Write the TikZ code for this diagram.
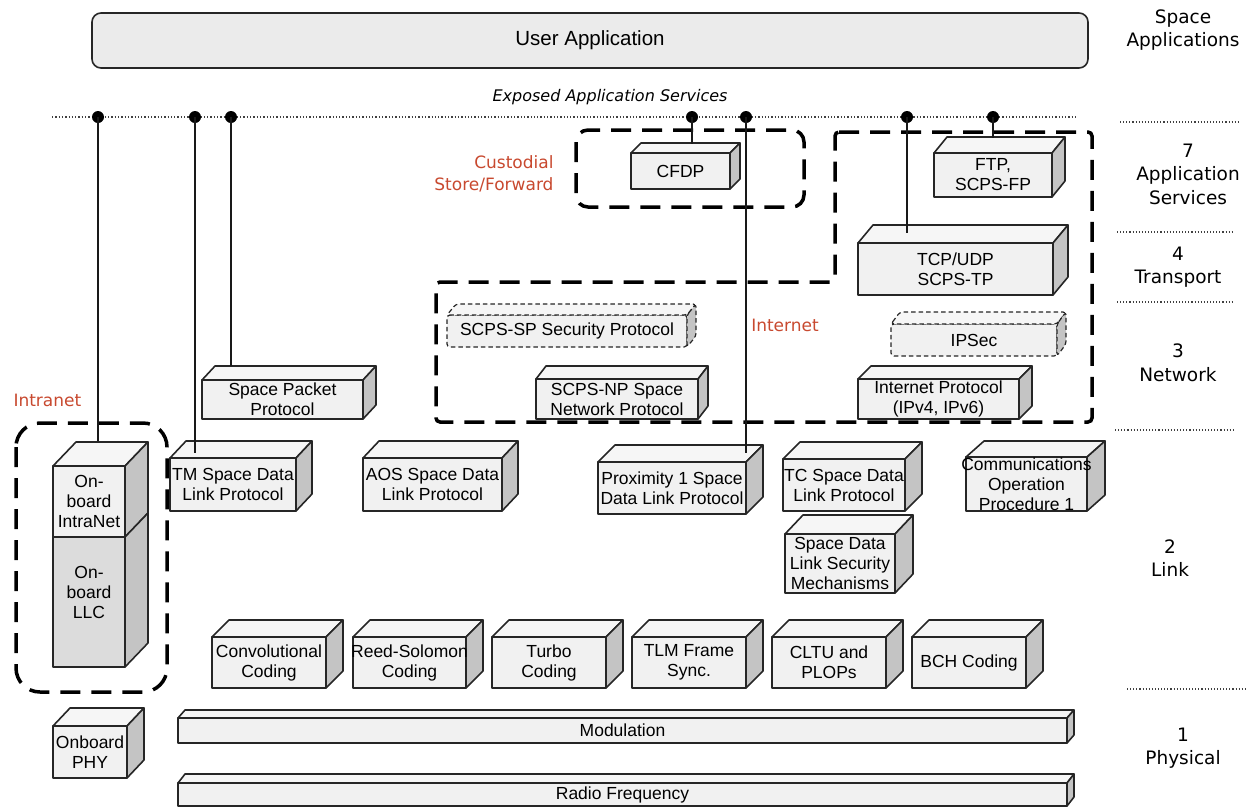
\documentclass[tikz,border=0pt]{standalone}
\usepackage{fontspec}
\setmainfont{Liberation Sans}
\newfontfamily\wideff{DejaVu Sans}
\newcommand\bxfont{\fontsize{17.5}{20}\selectfont}
\newcommand\lyfont{\wideff\fontsize{18.5}{23.5}\selectfont}
\newcommand\rdfont{\wideff\fontsize{17}{22}\selectfont}
\definecolor{frontc}{HTML}{F1F1F1}
\definecolor{sidec}{HTML}{C4C4C4}
\definecolor{topc}{HTML}{F6F6F6}
\definecolor{llcc}{HTML}{DCDCDC}
\definecolor{userc}{HTML}{EBEBEB}
\definecolor{redlab}{HTML}{C8492F}
\tikzset{
  boxline/.style={draw=black!85, line width=1.6pt, line join=round},
  front/.style={boxline, fill=frontc, rectangle, inner sep=0pt, outer sep=0pt},
  topface/.style={boxline, fill=topc},
  sideface/.style={boxline, fill=sidec},
  boxtext/.style={font=\bxfont, align=center, inner sep=0pt},
  secb/.style={dash pattern=on 4.5pt off 3pt, line width=1.2pt, rounded corners=3pt},
  dot/.style={circle, fill=black, inner sep=0pt, minimum size=12pt},
  conn/.style={line width=1.6pt, black!90},
  exposedline/.style={dotted, line width=1.3pt, black!75},
  bigdash/.style={line width=3.5pt, dash pattern=on 20pt off 11pt},
  layerlab/.style={font=\lyfont, align=center},
  redtext/.style={text=redlab, font=\rdfont},
}
% [opts]{name}{x1}{y1}{x2}{y2}{dx}{dy}{text}
\newcommand\cubebox[9][]{%
  \node[front,#1,minimum width={#5-#3},minimum height={#6-#4}] (#2) at ({(#3+#5)/2},{(#4+#6)/2}) {};
  \draw[topface,#1] (#2.north west) -- ++(#7,-#8) -- ([shift={(#7,-#8)}]#2.north east) -- (#2.north east) -- cycle;
  \draw[sideface,#1] (#2.north east) -- ++(#7,-#8) -- ([shift={(#7,-#8)}]#2.south east) -- (#2.south east) -- cycle;
  \node[boxtext] (#2-t) at (#2.center) {#9};
}
\begin{document}
\begin{tikzpicture}[x=1pt,y=-1pt]
\useasboundingbox (0,0) rectangle (1255,807);

% user application
\node[draw=black!85, line width=1.6pt, fill=userc, rounded corners=9pt,
      minimum width=996pt, minimum height=55pt, font=\fontsize{20.5}{24}\selectfont]
      (user) at (590,40.5) {User Application};

% exposed services line
\draw[exposedline] (52,117) -- (1077,117);
\node[font=\wideff\itshape\fontsize{16}{18}\selectfont] (exposed) at (610,97) {Exposed Application Services};

% layer labels
\node[layerlab] (lspace) at (1183,30) {Space\\Applications};
\node[layerlab] (l7) at (1188,174) {7\\Application\\Services};
\node[layerlab] (l4) at (1178,267) {4\\Transport};
\node[layerlab] (l3) at (1178,363) {3\\Network};
\node[layerlab] (l2) at (1170,558) {2\\Link};
\node[layerlab] (l1) at (1183,748) {1\\Physical};
\foreach \yy/\xa/\xb in {122/1120/1240, 232/1117/1232, 302/1117/1232, 430/1115/1233, 689/1127/1245}
  \draw[exposedline, line width=1.1pt] (\xa,\yy) -- (\xb,\yy);

% dashed groupings
\draw[bigdash, rounded corners=12pt] (576,130) rectangle (804,207);
\draw[bigdash, rounded corners=4pt] (835,132) -- (1092,132) -- (1092,422) -- (436,422) -- (436,282) -- (835,282) -- cycle;
\draw[bigdash, rounded corners=24pt] (16,423) rectangle (167,692);

% red labels
\node[redtext, align=right, anchor=east] (custodial) at (557,174) {Custodial\\Store/Forward};
\node[redtext, anchor=west] (intranet) at (10,400) {Intranet};
\node[redtext] (internet) at (785,325) {Internet};

% application / transport / network
\cubebox{cfdp}{631}{153}{730}{189}{10}{10}{CFDP}
\cubebox{ftp}{934}{153}{1052}{197}{13}{16}{FTP,\\SCPS-FP}
\cubebox{tcp}{858}{243}{1053}{295}{15}{18}{TCP/UDP\\SCPS-TP}
\cubebox[secb]{scpssp}{447}{315}{687}{347}{9}{11}{SCPS-SP Security Protocol}
\cubebox[secb]{ipsec}{891}{324}{1057}{356}{9}{12}{IPSec}
\cubebox{scpsnp}{536}{379}{698}{419}{10}{13}{SCPS-NP Space\\Network Protocol}
\cubebox{ip}{858}{379}{1019}{419}{13}{13}{Internet Protocol\\(IPv4, IPv6)}
\cubebox{spp}{202}{380}{363}{419}{13}{14}{Space Packet\\Protocol}

% link
\cubebox{tm}{170}{458}{296}{511}{16}{17}{TM Space Data\\Link Protocol}
\cubebox{aos}{363}{458}{502}{511}{16}{17}{AOS Space Data\\Link Protocol}
\cubebox{prox}{598}{462}{746}{514}{17}{17}{Proximity 1 Space\\Data Link Protocol}
\cubebox{tc}{783}{459}{905}{511}{17}{17}{TC Space Data\\Link Protocol}
\cubebox{sdls}{785}{534}{895}{593}{18}{19}{Space Data\\Link Security\\Mechanisms}
\cubebox{cop}{966}{457}{1087}{511}{18}{16}{Communications\\Operation\\Procedure 1}

% onboard stack
\cubebox{intra}{53}{466}{125}{537}{23}{24}{On-\\board\\IntraNet}
\node[front, fill=llcc, minimum width=72pt, minimum height=130pt] (llc) at (89,602) {};
\draw[sideface] (llc.north east) -- ++(23,-24) -- ([shift={(23,-24)}]llc.south east) -- (llc.south east) -- cycle;
\node[boxtext] (llc-t) at (89,592) {On-\\board\\LLC};
\cubebox{phy}{53}{726}{127}{778}{17}{18}{Onboard\\PHY}

% coding
\cubebox{conv}{212}{637}{326}{688}{17}{17}{Convolutional\\Coding}
\cubebox{rs}{353}{637}{466}{688}{17}{17}{Reed-Solomon\\Coding}
\cubebox{turbo}{492}{637}{606}{688}{17}{17}{Turbo\\Coding}
\cubebox{tlm}{632}{637}{746}{688}{17}{17}{TLM Frame\\Sync.}
\cubebox{cltu}{772}{637}{886}{688}{17}{17}{CLTU and\\PLOPs}
\cubebox{bch}{912}{637}{1026}{688}{17}{17}{BCH Coding}

% physical
\cubebox{mod}{178}{718}{1067}{743}{7}{8}{Modulation}
\cubebox{rf}{178}{783}{1067}{806}{7}{9}{Radio Frequency}

% service access points and connectors
\node[dot] (d1) at (98,117) {};
\node[dot] (d2) at (195,117) {};
\node[dot] (d3) at (231,117) {};
\node[dot] (d4) at (692,117) {};
\node[dot] (d5) at (746,117) {};
\node[dot] (d6) at (907,117) {};
\node[dot] (d7) at (993,117) {};
\coordinate (e1) at (98,441);
\coordinate (e2) at (195,453);
\coordinate (e3) at (231,366);
\coordinate (e4) at (692,144);
\coordinate (e5) at (746,453);
\coordinate (e6) at (907,233);
\coordinate (e7) at (993,138);
\foreach \i in {1,...,7} \draw[conn] (d\i.center) -- (e\i);
\end{tikzpicture}
\end{document}
